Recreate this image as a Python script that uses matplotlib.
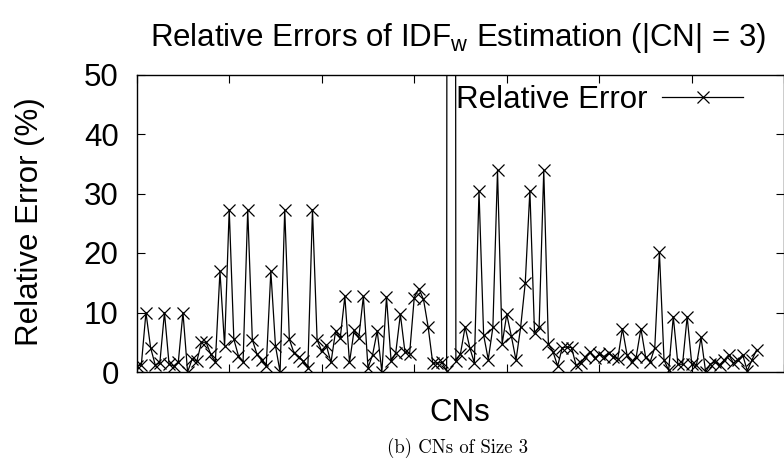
import matplotlib
matplotlib.use("Agg")
import matplotlib.pyplot as plt
import numpy as np

# Relative error (%) per CN index; index 68 is far above the axis (clipped)
cn_index = list(range(135))
rel_error = [
    1.0, 1.2, 10.0, 4.1, 1.2, 1.5, 10.0, 1.3, 1.0, 1.7,
    10.0, 0.0, 2.2, 1.8, 5.0, 5.0, 3.0, 1.7, 16.9, 4.4,
    27.3, 5.5, 2.7, 1.7, 27.3, 5.4, 3.0, 2.0, 1.0, 16.9,
    4.4, 0.0, 27.3, 5.5, 3.2, 2.6, 1.8, 0.7, 27.3, 5.4,
    3.5, 4.5, 1.6, 6.9, 5.7, 12.7, 1.6, 7.0, 5.7, 12.7,
    0.7, 2.9, 6.9, 0.0, 12.6, 1.8, 3.2, 9.7, 3.3, 3.1,
    12.5, 14.0, 12.2, 7.6, 1.5, 1.5, 1.6, 0.2, 1000.0, 1.8,
    3.1, 7.6, 4.1, 1.5, 30.4, 6.2, 2.1, 7.5, 33.9, 4.7,
    9.7, 6.0, 2.0, 7.5, 15.0, 30.5, 6.6, 7.6, 33.9, 4.7,
    3.4, 1.0, 4.1, 4.2, 4.1, 1.1, 1.5, 2.6, 3.4, 2.3,
    3.0, 2.6, 3.2, 2.6, 2.2, 7.3, 2.9, 1.7, 2.6, 7.3,
    2.6, 1.7, 4.1, 20.1, 2.0, 0.3, 9.3, 1.3, 1.3, 9.3,
    1.3, 1.1, 5.8, 0.0, 1.3, 1.7, 1.2, 2.0, 2.9, 1.5,
    2.0, 2.9, 0.2, 2.0, 3.7,
]
y_ticks = [0, 10, 20, 30, 40, 50]
x_ticks = [0, 20, 40, 60, 80, 100, 120, 140]

SANS = "Liberation Sans"
FS = 22.5

W, H = 784, 471
fig = plt.figure(figsize=(W / 100, H / 100), dpi=100)
left, right, top, bottom = 136.7, 784.3, 74.5, 372.0
ax = fig.add_axes([left / W, 1 - bottom / H, (right - left) / W, (bottom - top) / H])

ax.plot(cn_index, rel_error, color="black", linewidth=0.9, marker="x",
        markersize=8, markeredgewidth=0.9, label="Relative Error")

ax.set_xlim(0, 140)
ax.set_ylim(0, 50)
ax.set_xticks(x_ticks)
ax.set_xticklabels([])
ax.set_yticks(y_ticks)
ax.set_yticklabels([str(t) for t in y_ticks], fontsize=FS, fontfamily=SANS)
ax.tick_params(axis="both", direction="in", top=True, right=True, length=6, width=0.8)
ax.tick_params(axis="y", pad=13)
for s in ax.spines.values():
    s.set_linewidth(1.0)

leg = ax.legend(loc="upper left",
                bbox_to_anchor=((436 - left) / (right - left) - 0.012, 1.058),
                frameon=False, markerfirst=False, handlelength=2.6, handletextpad=0.45,
                numpoints=1, prop={"family": SANS, "size": FS})

fig.text(458 / W, 1 - 38 / H,
         r"Relative Errors of IDF$_{\mathregular{w}}$ Estimation (|CN| = 3)",
         ha="center", va="center", fontsize=FS, fontfamily=SANS)
fig.text(30 / W, 1 - 222 / H, "Relative Error (%)", rotation=90,
         ha="center", va="center", fontsize=FS, fontfamily=SANS)
fig.text(460 / W, 1 - 413 / H, "CNs", ha="center", va="center",
         fontsize=FS, fontfamily=SANS)
fig.text(458 / W, 1 - 448 / H, "(b) CNs of Size 3", ha="center", va="center",
         fontsize=13.5, fontfamily="cmr10")

fig.savefig("out.png", dpi=100)
